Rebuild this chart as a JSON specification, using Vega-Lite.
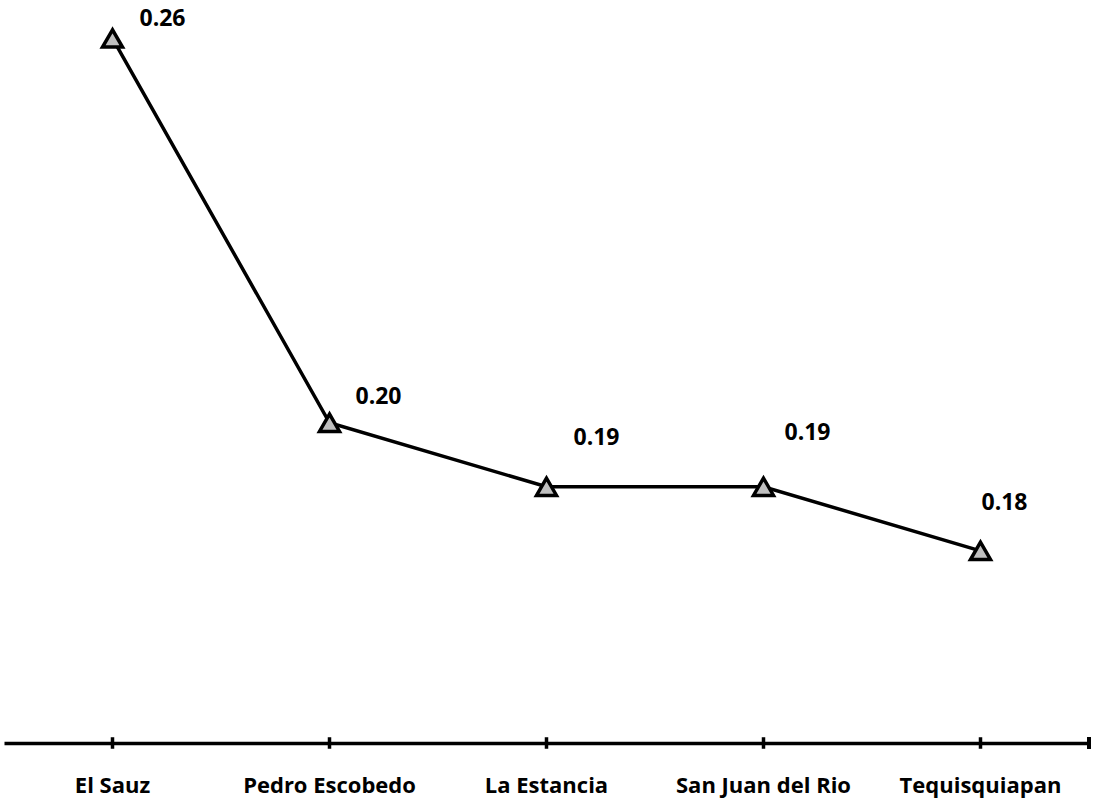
{
  "$schema": "https://vega.github.io/schema/vega-lite/v6.json",
  "width": 1085,
  "height": 743,
  "autosize": "none",
  "padding": {"left": 4, "top": 0, "right": 5, "bottom": 56},
  "background": "white",
  "config": {
    "view": {"stroke": null},
    "font": "Open Sans"
  },
  "data": {
    "values": [
      {"cat": "El Sauz", "value": 0.26},
      {"cat": "Pedro Escobedo", "value": 0.20},
      {"cat": "La Estancia", "value": 0.19},
      {"cat": "San Juan del Rio", "value": 0.19},
      {"cat": "Tequisquiapan", "value": 0.18}
    ]
  },
  "encoding": {
    "x": {
      "field": "cat",
      "type": "nominal",
      "sort": null,
      "scale": {"type": "band", "paddingInner": 0, "paddingOuter": 0},
      "axis": {
        "title": null,
        "labelAngle": 0,
        "labelFont": "Open Sans",
        "labelFontWeight": "bold",
        "labelFontSize": 22,
        "labelColor": "black",
        "labelPadding": 32,
        "ticks": false,
        "domainColor": "black",
        "domainWidth": 3.5,
        "grid": false
      }
    },
    "y": {
      "field": "value",
      "type": "quantitative",
      "scale": {"domain": [0.15, 0.266], "nice": false, "zero": false},
      "axis": null
    }
  },
  "layer": [
    {
      "mark": {"type": "rule", "color": "black", "strokeWidth": 3.5, "clip": false},
      "encoding": {
        "y": {"datum": 0.1509},
        "y2": {"datum": 0.1491}
      }
    },
    {
      "mark": {"type": "rule", "color": "black", "strokeWidth": 3.5, "clip": false},
      "encoding": {
        "x": {"datum": "Tequisquiapan", "bandPosition": 1},
        "y": {"datum": 0.1509},
        "y2": {"datum": 0.1491}
      }
    },
    {
      "mark": {"type": "line", "color": "black", "strokeWidth": 3.5}
    },
    {
      "mark": {
        "type": "point",
        "shape": "triangle-up",
        "size": 400,
        "filled": true,
        "fill": "#bfbfbf",
        "stroke": "black",
        "strokeWidth": 3.5,
        "opacity": 1
      }
    },
    {
      "transform": [{"filter": "datum.cat === 'El Sauz'"}],
      "mark": {"type": "text", "fontWeight": "bold", "fontSize": 23, "color": "black", "dx": 50, "dy": -19},
      "encoding": {"text": {"field": "value", "type": "quantitative", "format": ".2f"}}
    },
    {
      "transform": [{"filter": "datum.cat === 'Pedro Escobedo'"}],
      "mark": {"type": "text", "fontWeight": "bold", "fontSize": 23, "color": "black", "dx": 49, "dy": -26},
      "encoding": {"text": {"field": "value", "type": "quantitative", "format": ".2f"}}
    },
    {
      "transform": [{"filter": "datum.cat === 'La Estancia'"}],
      "mark": {"type": "text", "fontWeight": "bold", "fontSize": 23, "color": "black", "dx": 50, "dy": -49},
      "encoding": {"text": {"field": "value", "type": "quantitative", "format": ".2f"}}
    },
    {
      "transform": [{"filter": "datum.cat === 'San Juan del Rio'"}],
      "mark": {"type": "text", "fontWeight": "bold", "fontSize": 23, "color": "black", "dx": 44, "dy": -54},
      "encoding": {"text": {"field": "value", "type": "quantitative", "format": ".2f"}}
    },
    {
      "transform": [{"filter": "datum.cat === 'Tequisquiapan'"}],
      "mark": {"type": "text", "fontWeight": "bold", "fontSize": 23, "color": "black", "dx": 24, "dy": -48},
      "encoding": {"text": {"field": "value", "type": "quantitative", "format": ".2f"}}
    }
  ]
}
